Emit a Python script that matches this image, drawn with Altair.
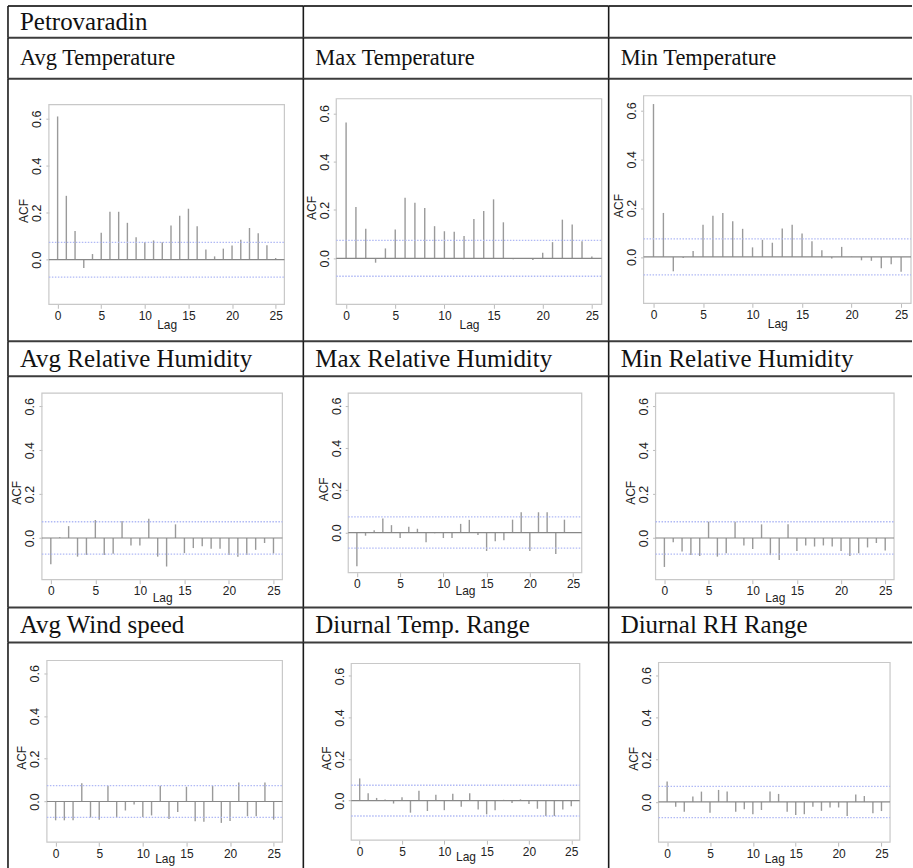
import altair as alt
import pandas as pd

# ---- ACF values, lags 0..25 ----
LAGS = list(range(26))

avg_temperature = [0.61, 0.272, 0.122, -0.035, 0.024, 0.115, 0.204, 0.204, 0.157, 0.096,
                   0.074, 0.082, 0.074, 0.146, 0.187, 0.217, 0.142, 0.043, 0.014, 0.047,
                   0.06, 0.085, 0.135, 0.113, 0.061, 0.007]
max_temperature = [0.562, 0.212, 0.122, -0.018, 0.041, 0.119, 0.251, 0.23, 0.208, 0.133,
                   0.112, 0.11, 0.092, 0.163, 0.196, 0.244, 0.149, -0.004, 0.0, -0.007,
                   0.023, 0.067, 0.16, 0.14, 0.071, 0.008]
min_temperature = [0.626, 0.18, -0.059, -0.005, 0.024, 0.132, 0.169, 0.18, 0.146, 0.115,
                   0.039, 0.07, 0.058, 0.116, 0.132, 0.096, 0.064, 0.027, -0.007, 0.041,
                   0.001, -0.014, -0.016, -0.047, -0.03, -0.061]
avg_rel_humidity = [-0.12, 0.003, 0.054, -0.085, -0.077, 0.082, -0.077, -0.072, 0.077, -0.034,
                    -0.034, 0.088, -0.085, -0.13, 0.062, -0.069, -0.046, -0.038, -0.049, -0.049,
                    -0.077, -0.085, -0.077, -0.054, -0.023, -0.071]
max_rel_humidity = [-0.16, -0.015, 0.011, 0.066, 0.035, -0.026, 0.027, 0.018, -0.046, -0.003,
                    -0.026, -0.026, 0.041, 0.06, -0.012, -0.087, -0.041, -0.037, 0.061, 0.096,
                    -0.087, 0.096, 0.096, -0.102, 0.061, 0.003]
min_rel_humidity = [-0.132, -0.02, -0.062, -0.078, -0.082, 0.074, -0.085, -0.07, 0.074, -0.034,
                    -0.05, 0.062, -0.078, -0.1, 0.062, -0.059, -0.034, -0.039, -0.034, -0.039,
                    -0.059, -0.082, -0.07, -0.043, -0.023, -0.057]
avg_wind_speed = [-0.088, -0.088, -0.088, 0.085, -0.075, -0.085, 0.074, -0.075, -0.042, -0.014,
                  -0.072, -0.065, 0.074, -0.082, -0.049, 0.069, -0.092, -0.095, 0.074, -0.1,
                  -0.091, 0.089, -0.069, -0.069, 0.089, -0.085]
diurnal_temp_range = [0.107, 0.036, 0.013, 0.005, -0.014, 0.016, -0.058, 0.047, -0.05, 0.028,
                      -0.046, 0.033, -0.03, 0.036, -0.043, -0.066, -0.046, 0.004, -0.011, 0.006,
                      -0.016, -0.039, -0.074, -0.074, -0.043, -0.027]
diurnal_rh_range = [0.097, -0.023, -0.046, 0.026, 0.049, -0.051, 0.057, 0.049, -0.046, -0.035,
                    -0.058, -0.038, 0.049, 0.038, -0.046, -0.062, -0.058, -0.023, -0.042, -0.026,
                    -0.026, -0.066, 0.035, 0.028, -0.054, -0.043]

CONF_LIMIT = 0.074          # 95% significance band
X_DOMAIN = [-1, 26]
Y_DOMAIN = [-0.19, 0.66]

STATION = "Petrovaradin"
TITLES = [
    ["Avg Temperature", "Max Temperature", "Min Temperature"],
    ["Avg Relative Humidity", "Max Relative Humidity", "Min Relative Humidity"],
    ["Avg Wind speed", "Diurnal Temp. Range", "Diurnal RH Range"],
]
SERIES = [
    [avg_temperature, max_temperature, min_temperature],
    [avg_rel_humidity, max_rel_humidity, min_rel_humidity],
    [avg_wind_speed, diurnal_temp_range, diurnal_rh_range],
]

# ---- table geometry ----
COL_W = [296, 306, 304]
HEADER_H = 32
TITLE_H = [41, 35, 35]
PLOT_H = [263, 232, 226]
HEADER_FONT = 25
TITLE_FONT = [22.5, 25, 25]
LAG_TITLE_Y = [24, 22, 20]

# plot frame inside each cell: (left, right, top, bottom) in pixels
FRAMES = [
    [(41, 277, 26, 226), (33, 299, 20, 226), (35, 303, 17, 225)],
    [(34, 275, 17, 204), (45, 279, 17, 197), (47, 286, 17, 204)],
    [(39, 275, 18, 200), (48, 277, 21, 198), (50, 282, 20, 200)],
]

LINE_COLOR = "#3c3c3c"
SANS = "Liberation Sans"
SERIF = "Liberation Serif"

one_row = pd.DataFrame({"k": [0]})


def borders(w, h):
    top = alt.Chart(one_row).mark_rule(color=LINE_COLOR, strokeWidth=2).encode(
        x=alt.value(0), x2=alt.value(w), y=alt.value(0))
    left = alt.Chart(one_row).mark_rule(color="#1a1a1a", strokeWidth=1.6).encode(
        x=alt.value(0), y=alt.value(0), y2=alt.value(h))
    return [top, left]


def text_cell(label, w, h, size):
    layers = borders(w, h)
    if label:
        layers.append(
            alt.Chart(pd.DataFrame({"label": [label]})).mark_text(
                align="left", baseline="middle", font=SERIF, fontSize=size, color="#111111"
            ).encode(x=alt.value(12), y=alt.value(h / 2), text="label:N")
        )
    return alt.layer(*layers).properties(width=w, height=h)


def acf_cell(values, w, h, frame, lag_title_y):
    left, right, top, bottom = frame
    xs = alt.Scale(domain=X_DOMAIN, range=[left, right], nice=False, zero=False)
    ys = alt.Scale(domain=Y_DOMAIN, range=[bottom, top], nice=False, zero=False)

    x_axis = alt.Axis(
        orient="bottom", offset=bottom - h, values=[0, 5, 10, 15, 20, 25],
        domain=False, grid=False, ticks=True, tickSize=4, tickColor="#bbbbbb",
        labelPadding=2, labelFont=SANS, labelFontSize=12, labelColor="#222222",
        labelFlush=False, labelOverlap=False,
        title="Lag", titleFont=SANS, titleFontSize=12, titleFontWeight="normal",
        titleColor="#222222", titleY=lag_title_y, titleBaseline="alphabetic",
    )
    y_axis = alt.Axis(
        orient="left", offset=-left, values=[0, 0.2, 0.4, 0.6], format=".1f",
        domain=False, grid=False, ticks=True, tickSize=3, tickColor="#bbbbbb",
        labelPadding=2, labelAngle=270, labelAlign="center", labelBaseline="bottom",
        labelFont=SANS, labelFontSize=12.5, labelColor="#222222", labelOverlap=False,
        title="ACF", titleFont=SANS, titleFontSize=12, titleFontWeight="normal",
        titleColor="#222222", titleAngle=270, titleX=-25,
        titleY=(top + bottom) / 2 + 6, titleAlign="center", titleBaseline="middle",
    )

    acf_df = pd.DataFrame({"lag": LAGS, "acf": values, "base": [0.0] * len(LAGS)})
    bars = alt.Chart(acf_df).mark_rule(color="#9a9a9a", strokeWidth=1.4).encode(
        x=alt.X("lag:Q", scale=xs, axis=x_axis),
        y=alt.Y("acf:Q", scale=ys, axis=y_axis),
        y2="base")

    box_df = pd.DataFrame({"lag": [X_DOMAIN[0]], "lag_end": [X_DOMAIN[1]],
                           "acf": [Y_DOMAIN[0]], "acf_end": [Y_DOMAIN[1]]})
    box = alt.Chart(box_df).mark_rect(filled=False, color="#c8c8c8", strokeWidth=1.2).encode(
        x=alt.X("lag:Q", scale=xs, axis=x_axis), x2="lag_end",
        y=alt.Y("acf:Q", scale=ys, axis=y_axis), y2="acf_end")

    zero_df = pd.DataFrame({"lag": [X_DOMAIN[0]], "lag_end": [X_DOMAIN[1]], "acf": [0.0]})
    zero = alt.Chart(zero_df).mark_rule(color="#888888", strokeWidth=1.2).encode(
        x=alt.X("lag:Q", scale=xs, axis=x_axis), x2="lag_end",
        y=alt.Y("acf:Q", scale=ys, axis=y_axis))

    ci_df = pd.DataFrame({"lag": [X_DOMAIN[0]] * 2, "lag_end": [X_DOMAIN[1]] * 2,
                          "acf": [CONF_LIMIT, -CONF_LIMIT]})
    ci = alt.Chart(ci_df).mark_rule(color="#b0b9f5", strokeWidth=1.3, strokeDash=[1.5, 1.5]).encode(
        x=alt.X("lag:Q", scale=xs, axis=x_axis), x2="lag_end",
        y=alt.Y("acf:Q", scale=ys, axis=y_axis))

    return alt.layer(bars, box, zero, ci, *borders(w, h)).properties(width=w, height=h)


cells = [text_cell(STATION if i == 0 else "", COL_W[i], HEADER_H, HEADER_FONT) for i in range(3)]
for r in range(3):
    cells += [text_cell(TITLES[r][c], COL_W[c], TITLE_H[r], TITLE_FONT[r]) for c in range(3)]
    cells += [acf_cell(SERIES[r][c], COL_W[c], PLOT_H[r], FRAMES[r][c], LAG_TITLE_Y[r])
              for c in range(3)]

chart = alt.concat(
    *cells, columns=3, spacing=0, bounds="flush", align="each"
).configure_view(stroke=None).properties(
    padding={"left": 7, "top": 4, "right": 0, "bottom": 0},
    background="white",
)

chart.save("out.html", embed_options={"renderer": "svg", "actions": False})
